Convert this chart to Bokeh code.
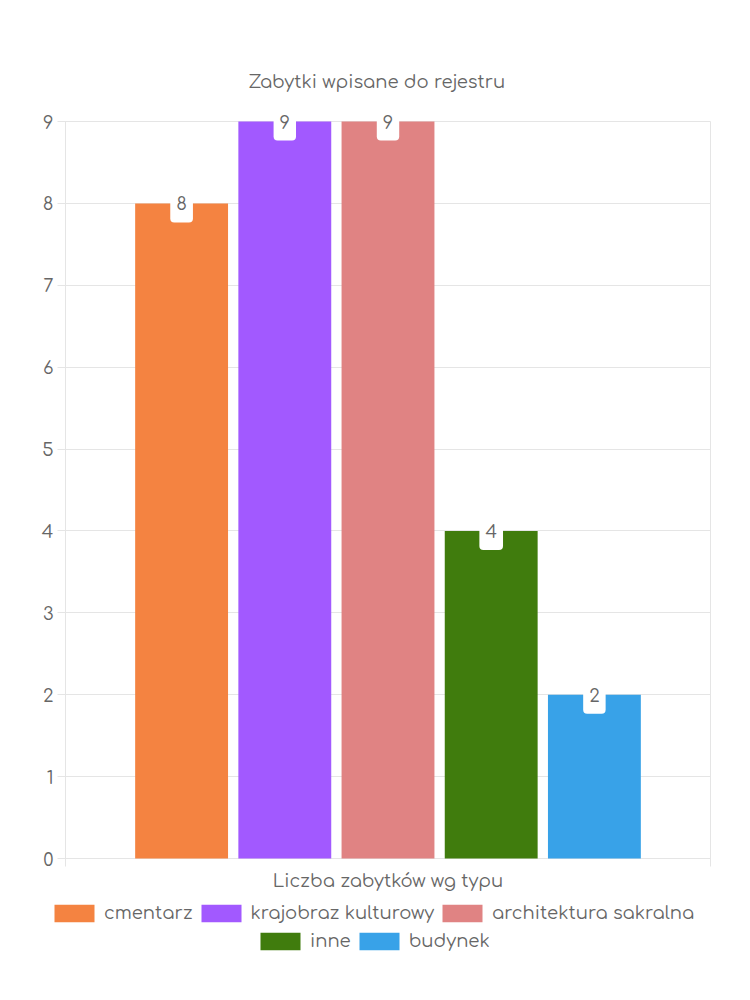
from bokeh.plotting import figure
from bokeh.models import (ColumnDataSource, Range1d, FixedTicker, Legend, LegendItem,
                          LinearAxis)
from bokeh.embed import file_html
from bokeh.resources import INLINE
from bokeh.core.properties import value
import numpy as np

title_text = "Zabytki wpisane do rejestru"
category = "Liczba zabytków wg typu"
series = ["cmentarz", "krajobraz kulturowy", "architektura sakralna", "inne", "budynek"]
values = [8, 9, 9, 4, 2]
colors = ["#f48341", "#a259ff", "#e08383", "#407c0d", "#38a2e8"]
y_ticks = [0, 1, 2, 3, 4, 5, 6, 7, 8, 9]

FONT = "Comfortaa, Quicksand, Lato"
TXT = "#666666"
GRID = "#e5e5e5"
FS = "18px"

# layout (pixels)
W, H = 750, 1000
TOP = 100                    # top of drawing area (title above)
PL, PR, PT, PB = 65, 710, 121, 858   # plot box

n = len(series)
xs = np.arange(n)
center = (n - 1) / 2
half = (n / 0.8) / 2  # category spans 80% of the plot box
x_left, x_right = center - half, center + half
ymax = max(y_ticks)

kx = (PR - PL) / (x_right - x_left)
ky = (PB - PT) / ymax
x_range = Range1d(x_left - PL / kx, x_right + (W - PR) / kx)
y_range = Range1d(-(H - PB) / ky, ymax + (PT - TOP) / ky)

src = ColumnDataSource(dict(x=xs, top=values, color=colors, name=series,
                            lab=[str(v) for v in values]))

p = figure(width=W, height=H, frame_width=W, frame_height=H - TOP,
           output_backend="svg", toolbar_location=None,
           x_range=x_range, y_range=y_range,
           min_border_left=0, min_border_right=0, min_border_top=TOP,
           min_border_bottom=0)
p.background_fill_color = "white"
p.border_fill_color = "white"
p.outline_line_color = None
p.xgrid.visible = False
p.ygrid.visible = False

p.title.text = title_text
p.title.align = "left"
p.title.offset = 248
p.title.text_color = TXT
p.title.text_font = FONT
p.title.text_font_size = FS
p.title.text_font_style = "normal"
p.title.standoff = 18

r = p.vbar(x="x", top="top", width=0.9, color="color", line_color=None, source=src)

p.text(x="x", y="top", text="lab", source=src, text_align="center",
       text_baseline="middle", text_color=TXT, text_font=value(FONT),
       text_font_size=FS, background_fill_color="white",
       border_radius=4, padding=(6, 6, 12, 12))

# y axis (its inward ticks form the horizontal grid lines)
ya = p.yaxis[0]
ya.fixed_location = x_left
ya.bounds = (0, ymax)
ya.level = "underlay"
ya.ticker = FixedTicker(ticks=y_ticks)
ya.axis_line_color = GRID
ya.major_tick_line_color = GRID
ya.major_tick_out = 8
ya.major_tick_in = PR - PL
ya.minor_tick_line_color = None
ya.major_label_text_color = TXT
ya.major_label_text_font = FONT
ya.major_label_text_font_size = FS
ya.major_label_standoff = 4

# x axis: base line and the two vertical edge lines
xa = p.xaxis[0]
xa.fixed_location = 0
xa.bounds = (x_left, x_right)
xa.level = "underlay"
xa.ticker = FixedTicker(ticks=[x_left, x_right])
xa.major_label_overrides = {x_left: "", x_right: ""}
xa.axis_line_color = "#d0d0d0"
xa.major_tick_line_color = GRID
xa.major_tick_out = 8
xa.major_tick_in = PB - PT
xa.minor_tick_line_color = None

# category label
xc = LinearAxis(fixed_location=0, ticker=FixedTicker(ticks=[center]),
                major_label_overrides={center: category},
                axis_line_color=None, major_tick_line_color=None,
                minor_tick_line_color=None, major_tick_out=0, major_tick_in=0,
                major_label_standoff=12, major_label_text_color=TXT,
                major_label_text_font=FONT, major_label_text_font_size=FS)
p.add_layout(xc, "below")

def make_legend(idx, loc):
    items = [LegendItem(label=series[i], renderers=[r], index=i) for i in idx]
    return Legend(items=items, orientation="horizontal", location=loc,
                  glyph_width=50, glyph_height=22, label_standoff=5, spacing=3,
                  padding=0, margin=0, border_line_color=None,
                  background_fill_alpha=0,
                  label_text_font=FONT, label_text_font_size=FS,
                  label_text_color=TXT, label_height=22)

p.add_layout(make_legend([0, 1, 2], (49, H - 924)))
p.add_layout(make_legend([3, 4], (255, H - 952)))

open("out.html", "w").write(file_html(p, INLINE))
